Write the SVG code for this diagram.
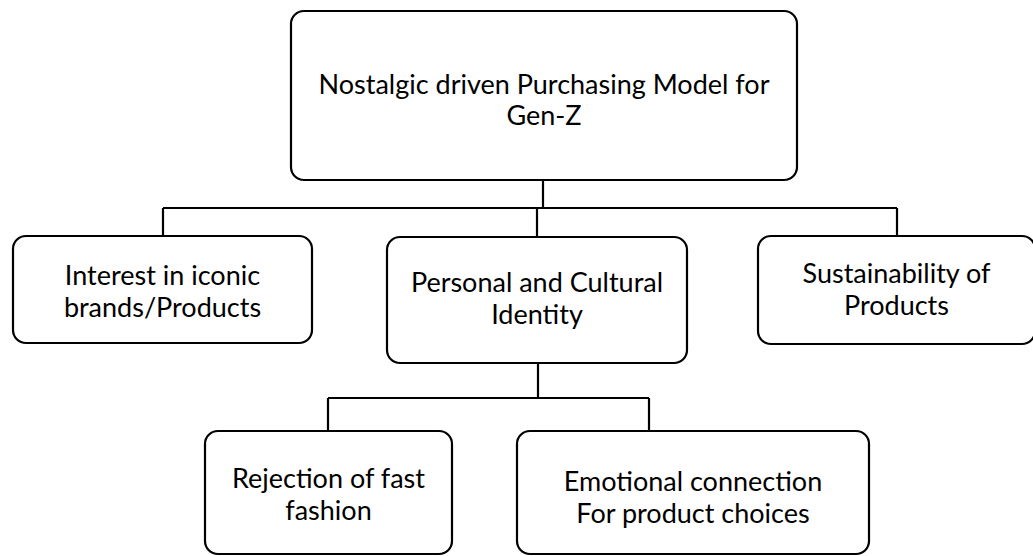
<svg xmlns="http://www.w3.org/2000/svg" width="1033" height="556" viewBox="0 0 1033 556">
  <style>
    .box { fill: #ffffff; stroke: #000000; stroke-width: 2.2; }
    .lbl { font-family: "Lato", "Open Sans", "Liberation Sans", sans-serif; font-size: 27px; fill: #000000; text-anchor: middle; }
    .con { fill: none; stroke: #000000; stroke-width: 2.2; }
  </style>
  <rect width="1033" height="556" fill="#ffffff"/>
  <g id="connectors">
    <path class="con" d="M543 180 V208 M163 208 H897 M163 208 V236 M537 208 V237 M897 208 V236"/>
    <path class="con" d="M538 363 V398 M328 398 H649 M328 398 V431 M649 398 V431"/>
  </g>
  <g id="node-root">
    <rect class="box" x="291" y="11" width="506" height="169" rx="13"/>
    <text class="lbl" x="544" y="94">Nostalgic driven Purchasing Model for</text>
    <text class="lbl" x="544" y="125">Gen-Z</text>
  </g>
  <g id="node-iconic">
    <rect class="box" x="13" y="236" width="299" height="107" rx="13"/>
    <text class="lbl" x="162.5" y="285">Interest in iconic</text>
    <text class="lbl" x="162.5" y="317">brands/Products</text>
  </g>
  <g id="node-identity">
    <rect class="box" x="387" y="237" width="300" height="126" rx="13"/>
    <text class="lbl" x="537" y="292">Personal and Cultural</text>
    <text class="lbl" x="537" y="324">Identity</text>
  </g>
  <g id="node-sustainability">
    <rect class="box" x="758" y="236" width="277" height="108" rx="13"/>
    <text class="lbl" x="896.5" y="283">Sustainability of</text>
    <text class="lbl" x="896.5" y="315">Products</text>
  </g>
  <g id="node-fastfashion">
    <rect class="box" x="205" y="431" width="247" height="123" rx="13"/>
    <text class="lbl" x="328.5" y="488">Rejection of fast</text>
    <text class="lbl" x="328.5" y="520">fashion</text>
  </g>
  <g id="node-emotional">
    <rect class="box" x="517" y="431" width="352" height="123" rx="13"/>
    <text class="lbl" x="693" y="491">Emotional connection</text>
    <text class="lbl" x="693" y="523">For product choices</text>
  </g>
</svg>
